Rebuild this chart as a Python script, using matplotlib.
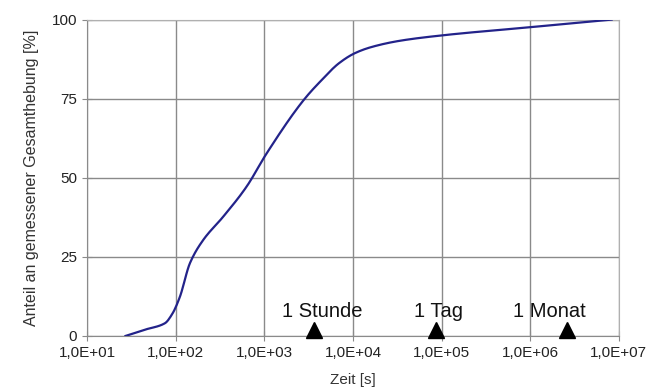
import numpy as np
import matplotlib
matplotlib.use("Agg")
import matplotlib.pyplot as plt
from matplotlib.ticker import FixedLocator, FuncFormatter

plt.rcParams['font.family'] = ['Liberation Sans', 'DejaVu Sans']

# curve (time in s, share in %)
zeit = [27, 45, 75, 92, 111, 144, 203, 342, 628, 1057, 2850, 4220, 7000,
        10500, 16000, 33600, 1e5, 1e6, 8.3e6]
anteil = [0, 2.0, 4.0, 7.2, 12.4, 23, 30.3, 37.7, 47.2, 57.7, 75, 80.3, 86.3,
          89.4, 91.3, 93.3, 95, 97.6, 100]

marken = ['1 Stunde', '1 Tag', '1 Monat']
marken_zeit = [3600, 86400, 2.6e6]
text_zeit = [4500, 9.2e4, 1.65e6]

x_ticks = [1e1, 1e2, 1e3, 1e4, 1e5, 1e6, 1e7]
y_ticks = [0, 25, 50, 75, 100]

fig = plt.figure(figsize=(6.59, 3.92), dpi=100)
ax = fig.add_axes([0.1325, 0.143, 0.8065, 0.807])

# smooth the read points in log space, monotone cubic (Fritsch-Carlson)
lx = np.log10(zeit)
fine = np.linspace(lx[0], lx[-1], 400)
y = np.array(anteil, dtype=float)
h = np.diff(lx)
d = np.diff(y) / h
m = np.zeros_like(y)
m[0], m[-1] = d[0], d[-1]
for i in range(1, len(y) - 1):
    if d[i - 1] * d[i] <= 0:
        m[i] = 0
    else:
        w1 = 2 * h[i] + h[i - 1]
        w2 = h[i] + 2 * h[i - 1]
        m[i] = (w1 + w2) / (w1 / d[i - 1] + w2 / d[i])
idx = np.clip(np.searchsorted(lx, fine) - 1, 0, len(h) - 1)
t = (fine - lx[idx]) / h[idx]
h00 = 2 * t**3 - 3 * t**2 + 1
h10 = t**3 - 2 * t**2 + t
h01 = -2 * t**3 + 3 * t**2
h11 = t**3 - t**2
yy = h00 * y[idx] + h10 * h[idx] * m[idx] + h01 * y[idx + 1] + h11 * h[idx] * m[idx + 1]

ax.plot(10**fine, yy, color='#23238a', lw=1.6, zorder=3)

ax.set_xscale('log')
ax.set_xlim(1e1, 1e7)
ax.set_ylim(0, 100)
ax.xaxis.set_major_locator(FixedLocator(x_ticks))
ax.xaxis.set_minor_locator(FixedLocator([]))
ax.xaxis.set_major_formatter(FuncFormatter(lambda v, p: '1,0E+%02d' % round(np.log10(v))))
ax.set_yticks(y_ticks)

ax.grid(True, color='#8a8a8a', lw=1.0)
for s in ['top', 'right']:
    ax.spines[s].set_color('#b0b0b0')
for s in ['left', 'bottom']:
    ax.spines[s].set_color('#8a8a8a')
ax.tick_params(direction='inout', length=7, color='#8a8a8a', labelsize=11,
               labelcolor='#222222', pad=4)

for name, xm, xt in zip(marken, marken_zeit, text_zeit):
    ax.plot(xm, 1.9, marker='^', color='black', markersize=11, clip_on=False, zorder=4)
    ax.text(xt, 7.8, name, ha='center', va='center', fontsize=14.5, color='#111111')

ax.set_xlabel('Zeit [s]', fontsize=11, color='#333333', labelpad=9)
ax.set_ylabel('Anteil an gemessener Gesamthebung [%]', fontsize=11.5, color='#333333', labelpad=9)

fig.savefig('out.png', dpi=100)
